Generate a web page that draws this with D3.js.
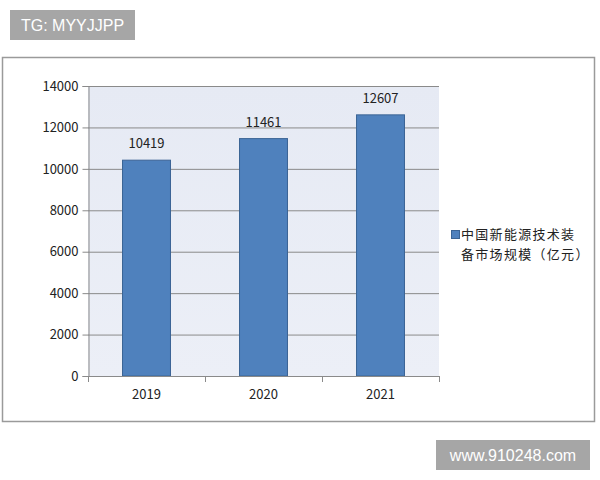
<!DOCTYPE html>
<html>
<head>
<meta charset="utf-8">
<script src="https://cdn.jsdelivr.net/npm/d3@7"></script>
<style>
  body { margin: 0; background: #fff; }
  svg { display: block; }
</style>
</head>
<body>
<svg id="chart" width="600" height="480"></svg>
<script>
// data
const years = ['2019', '2020', '2021']
const marketSize = [10419, 11461, 12607]
const yTicks = [0, 2000, 4000, 6000, 8000, 10000, 12000, 14000]
const legendLines = ['中国新能源技术装', '备市场规模（亿元）']

const svg = d3.select('#chart')
const font = '"Noto Sans CJK SC", "Liberation Sans", sans-serif'

// frame of the chart
svg.append('rect')
	.attr('x', 2.5).attr('y', 57.5)
	.attr('width', 592).attr('height', 364)
	.attr('fill', '#fff')
	.attr('stroke', '#9a9a9a')
	.attr('stroke-width', 1.5)

const plot = { left: 88, right: 439, top: 86, bottom: 376 }

const x = d3.scaleBand()
	.domain(years)
	.range([plot.left, plot.right])
	.paddingInner(0.59)
	.paddingOuter(0.295)

const y = d3.scaleLinear()
	.domain([0, 14000])
	.range([plot.bottom, plot.top])

// plot background
const grad = svg.append('defs').append('linearGradient')
	.attr('id', 'bg').attr('x1', 0).attr('y1', 0).attr('x2', 0).attr('y2', 1)
grad.append('stop').attr('offset', 0).attr('stop-color', '#e6eaf4')
grad.append('stop').attr('offset', 1).attr('stop-color', '#eceff7')

svg.append('rect')
	.attr('x', plot.left).attr('y', plot.top)
	.attr('width', plot.right - plot.left).attr('height', plot.bottom - plot.top)
	.attr('fill', 'url(#bg)')

// gridlines
svg.append('g')
	.selectAll('line')
	.data(yTicks.filter(d => d > 0))
	.join('line')
	.attr('x1', plot.left).attr('x2', plot.right)
	.attr('y1', d => y(d) + 0.5).attr('y2', d => y(d) + 0.5)
	.attr('stroke', '#8a8a8a')
	.attr('stroke-width', 1)

// y axis
const yAxis = svg.append('g')
	.attr('transform', `translate(${plot.left + 0.5},0)`)
	.call(d3.axisLeft(y).tickValues(yTicks).tickSize(6).tickPadding(4).tickFormat(d3.format('d')))
yAxis.select('.domain').attr('stroke', '#8a8a8a')
yAxis.selectAll('.tick line').attr('stroke', '#8a8a8a')
yAxis.selectAll('text')
	.attr('font-family', font).attr('font-size', 13).attr('fill', '#222')

// bars
svg.append('g')
	.selectAll('rect')
	.data(marketSize)
	.join('rect')
	.attr('x', (d, i) => x(years[i]))
	.attr('y', d => y(d))
	.attr('width', x.bandwidth())
	.attr('height', d => plot.bottom - y(d))
	.attr('fill', '#4f81bd')
	.attr('stroke', '#3b6495')
	.attr('stroke-width', 1)

// value labels
svg.append('g')
	.selectAll('text')
	.data(marketSize)
	.join('text')
	.attr('x', (d, i) => x(years[i]) + x.bandwidth() / 2)
	.attr('y', d => y(d) - 12)
	.attr('text-anchor', 'middle')
	.attr('font-family', font).attr('font-size', 13).attr('fill', '#222')
	.text(d => d)

// x axis
const xLine = svg.append('g')
xLine.append('line')
	.attr('x1', plot.left).attr('x2', plot.right)
	.attr('y1', plot.bottom + 0.5).attr('y2', plot.bottom + 0.5)
	.attr('stroke', '#8a8a8a')
xLine.selectAll('line.tk')
	.data(d3.range(years.length + 1))
	.join('line')
	.attr('class', 'tk')
	.attr('x1', i => plot.left + 0.5 + i * (plot.right - plot.left) / years.length)
	.attr('x2', i => plot.left + 0.5 + i * (plot.right - plot.left) / years.length)
	.attr('y1', plot.bottom).attr('y2', plot.bottom + 6)
	.attr('stroke', '#8a8a8a')
xLine.selectAll('text')
	.data(years)
	.join('text')
	.attr('x', d => x(d) + x.bandwidth() / 2)
	.attr('y', plot.bottom + 23)
	.attr('text-anchor', 'middle')
	.attr('font-family', font).attr('font-size', 13).attr('fill', '#222')
	.text(d => d)

// legend
svg.append('rect')
	.attr('x', 451.5).attr('y', 230.5)
	.attr('width', 8).attr('height', 8)
	.attr('fill', '#4f81bd').attr('stroke', '#3b6495')
svg.append('g')
	.selectAll('text')
	.data(legendLines)
	.join('text')
	.attr('x', 461)
	.attr('y', (d, i) => 239 + i * 20)
	.attr('font-family', font).attr('font-size', 13).attr('fill', '#222')
	.attr('letter-spacing', 1.3)
	.text(d => d)

// watermarks
const marks = [
	{ text: 'TG: MYYJJPP', x: 10, y: 10, w: 125, h: 30 },
	{ text: 'www.910248.com', x: 436, y: 440, w: 154, h: 30 }
]
const wm = svg.append('g').selectAll('g').data(marks).join('g')
wm.append('rect')
	.attr('x', d => d.x).attr('y', d => d.y)
	.attr('width', d => d.w).attr('height', d => d.h)
	.attr('fill', '#a6a6a6')
wm.append('text')
	.attr('x', d => d.x + d.w / 2).attr('y', d => d.y + d.h / 2 + 6)
	.attr('text-anchor', 'middle')
	.attr('font-family', '"Liberation Sans", Arial, sans-serif')
	.attr('font-size', 16).attr('fill', '#fff')
	.text(d => d.text)
</script>
</body>
</html>
